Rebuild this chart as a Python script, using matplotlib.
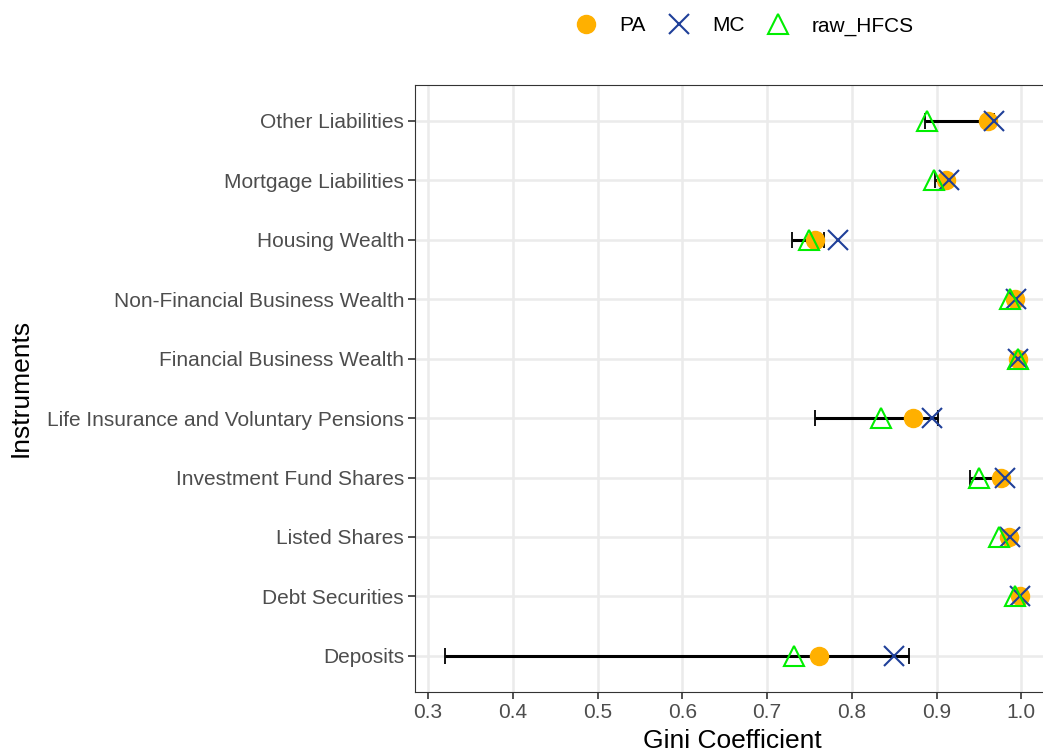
import matplotlib
matplotlib.use('Agg')
import matplotlib.pyplot as plt
import numpy as np

plt.rcParams['font.family'] = ['Liberation Sans', 'DejaVu Sans']

instruments = ['Deposits', 'Debt Securities', 'Listed Shares', 'Investment Fund Shares',
               'Life Insurance and Voluntary Pensions', 'Financial Business Wealth',
               'Non-Financial Business Wealth', 'Housing Wealth',
               'Mortgage Liabilities', 'Other Liabilities']
pa = [0.761, 0.998, 0.986, 0.976, 0.872, 0.996, 0.993, 0.756, 0.911, 0.961]
mc = [0.850, 0.999, 0.987, 0.981, 0.895, 0.996, 0.994, 0.784, 0.915, 0.968]
raw_hfcs = [0.732, 0.993, 0.974, 0.950, 0.834, 0.996, 0.987, 0.749, 0.897, 0.889]
err_lo = [0.320, 0.996, 0.985, 0.940, 0.756, 0.995, 0.989, 0.730, 0.898, 0.886]
err_hi = [0.868, 0.999, 0.987, 0.981, 0.902, 0.997, 0.992, 0.767, 0.914, 0.968]

xticks = [0.3, 0.4, 0.5, 0.6, 0.7, 0.8, 0.9, 1.0]
xtick_labels = ['0.3', '0.4', '0.5', '0.6', '0.7', '0.8', '0.9', '1.0']

fig = plt.figure(figsize=(10.43, 7.51), dpi=100)
ax = fig.add_axes([0.398, 0.079, 0.608, 0.808])

y = np.arange(len(instruments))
lo = np.array(err_lo)
hi = np.array(err_hi)
mid = (lo + hi) / 2

ax.errorbar(mid, y, xerr=[mid - lo, hi - mid], fmt='none', ecolor='black',
            elinewidth=2.2, capsize=6, capthick=1.3, zorder=2)
ax.plot(pa, y, 'o', color='#FFB000', markersize=13, linestyle='none', zorder=3, label='PA')
ax.plot(mc, y, 'x', color='#1F3F99', markersize=14, markeredgewidth=1.5,
        linestyle='none', zorder=4, label='MC')
ax.plot(raw_hfcs, y, '^', markerfacecolor='none', markeredgecolor='#00EE00',
        markersize=15, markeredgewidth=1.5, linestyle='none', zorder=5, label='raw_HFCS')

ax.set_xlim(0.2847, 1.033)
ax.set_ylim(-0.6, len(instruments) - 0.4)
ax.set_xticks(xticks)
ax.set_xticklabels(xtick_labels)
ax.set_yticks(y)
ax.set_yticklabels(instruments)

ax.grid(True, color='#EBEBEB', linewidth=1.8)
ax.set_axisbelow(True)
for s in ax.spines.values():
    s.set_color('#333333')
    s.set_linewidth(0.8)
ax.tick_params(axis='both', colors='#333333', labelcolor='#4D4D4D',
               labelsize=15, length=5, width=1.2, pad=3)

ax.set_xlabel('Gini Coefficient', fontsize=19, labelpad=5)
ax.set_ylabel('Instruments', fontsize=19, labelpad=10)

fig.legend(loc='upper center', bbox_to_anchor=(0.709, 1.003), ncol=3, frameon=False,
           fontsize=15, handletextpad=0.6, columnspacing=0.6)

fig.savefig('out.png', dpi=100)
